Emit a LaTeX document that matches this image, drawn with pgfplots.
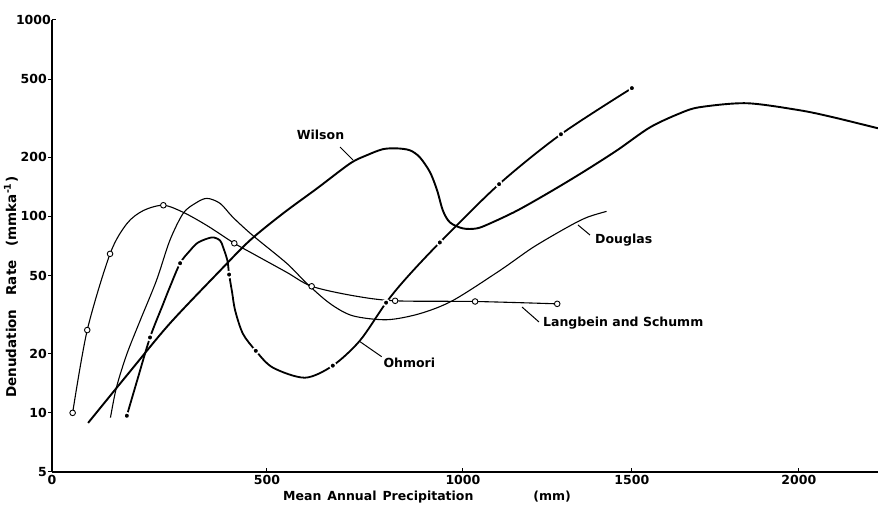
\documentclass[border=0pt]{standalone}
\usepackage{pgfplots}
\pgfplotsset{compat=1.18}
\usepackage{fontspec}
\setmainfont{DejaVu Sans}

\begin{document}
\begin{tikzpicture}
\begin{axis}[
	scale only axis,
	width=826pt,
	height=452pt,
	ymode=log,
	ymin=5, ymax=1000,
	xmin=0, xmax=2237,
	% the scanned x axis is not evenly spaced: 215/196/169/167 px per 500 mm
	x coord trafo/.code={\pgfmathparse{0.43*#1-0.038*max(#1-500,0)-0.054*max(#1-1000,0)-0.004*max(#1-1500,0)}},
	axis x line=bottom,
	axis y line=left,
	axis line style={-, line width=1.3pt},
	xtick={0,500,1000,1500,2000},
	xticklabels={0,500,1000,1500,2000},
	ytick={5,10,20,50,100,200,500},
	yticklabels={5,10,20,50,100,200,500},
	extra y ticks={1000},
	extra y tick labels={1000},
	extra y tick style={ytick align=inside},
	minor tick num=0,
	yminorticks=false,
	xtick align=inside,
	ytick align=outside,
	major tick length=4pt,
	tick style={line width=1pt, black},
	yticklabel style={inner xsep=1pt},
	/pgf/number format/assume math mode=true,
	tick label style={font=\bfseries\fontsize{12.5}{15}\selectfont},
	clip=false,
]
% Wilson
\addplot[line width=1.9pt, smooth] coordinates {
(84,8.89) (181,16.2) (274,28.5) (391,53.0) (460,75.4) (541,103.6) (628,139)
(712,186) (755,205) (796,220) (832,222) (865,217) (890,200) (916,168)
(934,136) (949,107) (967,93.2) (1000,86.9) (1041,86.9) (1080,92.1)
(1160,107) (1257,133) (1355,168) (1456,217) (1554,284) (1644,335)
(1704,360) (1844,377) (2003,347) (2102,320) (2237,281)};
% Douglas
\addplot[line width=1.1pt, smooth] coordinates {
(136,9.46) (150,13.5) (174,19.9) (205,29.5) (243,47.2) (274,75.4) (305,103.6)
(333,116.5) (360,123.6) (391,116.5) (421,98.9) (467,80.0) (551,57.6)
(602,45.5) (661,36.0) (719,31.2) (806,29.8) (890,32.0) (974,37.3)
(1109,53.0) (1207,69.5) (1308,87.9) (1367,98.9) (1425,106.1)};
% Langbein and Schumm
\addplot[line width=1.1pt, smooth] coordinates {
(48,10.0) (82,26.4) (135,64.5) (174,91.8) (212,107) (259,114) (305,105)
(360,90) (424,73) (468,64.5) (550,52) (614,44.1) (720,39.5) (827,37.2)
(1036,36.9) (1279,35.9)};
\addplot[only marks, mark=*, mark size=2.8pt,
	mark options={fill=white, draw=black, line width=0.9pt}] coordinates {
(48,10.0) (82,26.4) (135,64.5) (259,114) (424,73) (614,44.1) (827,37.2)
(1036,36.9) (1279,35.9)};
% Ohmori
\addplot[line width=1.8pt, smooth] coordinates {
(174,9.67) (198,14.6) (228,24.2) (258,35.6) (274,43.6) (298,57.8) (321,67.0)
(340,73.7) (372,78.2) (391,75.4) (398,69.7) (408,59.6) (412,50.6) (419,41.0)
(426,33.2) (444,25.3) (474,20.7) (515,17.0) (597,15.1) (668,17.4) (737,23.3)
(804,36.4) (857,48.9) (941,73.7) (1107,146) (1290,262) (1500,450)};
\addplot[only marks, mark=*, mark size=3pt,
	mark options={fill=black, draw=white, line width=1.6pt}] coordinates {
(174,9.67) (228,24.2) (298,57.8) (412,50.6) (474,20.7) (668,17.4) (804,36.4)
(941,73.7) (1107,146) (1290,262) (1500,450)};

% curve labels and leaders
\begin{scope}[font=\bfseries\fontsize{12.5}{15}\selectfont]
\node[anchor=west, inner sep=0pt] at (rel axis cs:0.2962,0.7456) {Wilson};
\draw[line width=1pt] (rel axis cs:0.3487,0.7190) -- (rel axis cs:0.3644,0.6903);
\node[anchor=west, inner sep=0pt] at (rel axis cs:0.6574,0.5133) {Douglas};
\draw[line width=1pt] (rel axis cs:0.6368,0.5465) -- (rel axis cs:0.6513,0.5243);
\node[anchor=west, inner sep=0pt] at (rel axis cs:0.5944,0.3296) {Langbein and Schumm};
\draw[line width=1pt] (rel axis cs:0.5690,0.3650) -- (rel axis cs:0.5896,0.3319);
\node[anchor=west, inner sep=0pt] at (rel axis cs:0.4011,0.2412) {Ohmori};
\draw[line width=1pt] (rel axis cs:0.3729,0.2883) -- (rel axis cs:0.3991,0.2551);
% axis titles
\node[anchor=west, inner sep=0pt] at (rel axis cs:0.2797,-0.056)
	{Mean\hspace{6pt}Annual\hspace{6pt}Precipitation\hspace{60pt}(mm)};
\node[anchor=west, rotate=90, inner sep=0pt, font=\bfseries\fontsize{13.5}{16}\selectfont]
	at (rel axis cs:-0.0496,0.1637)
	{Denudation\hspace{14pt}Rate\hspace{14pt}(mmka\textsuperscript{-1})};
\end{scope}
\end{axis}
\pgfresetboundingbox
\path[use as bounding box] ([xshift=-52pt,yshift=-36pt]current axis.south west)
	rectangle ([yshift=20pt]current axis.north east);
\end{tikzpicture}
\end{document}
